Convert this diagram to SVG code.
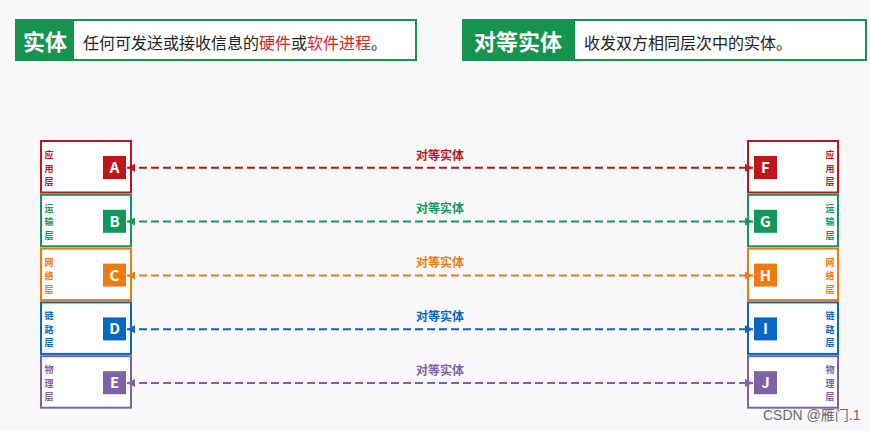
<svg xmlns="http://www.w3.org/2000/svg" width="870" height="431" viewBox="0 0 870 431">
<style>
text{font-family:"Noto Sans CJK SC","Noto Sans",sans-serif}
.hdr{fill:#ffffff;stroke:#16934d;stroke-width:2}
.hlab{fill:#16934d}
.ht{font-size:22px;font-weight:bold;fill:#fff}
.hd{font-size:16px;fill:#222}
.red{fill:#e3211b}
.box{fill:#fff;stroke-width:2}
.sq{stroke:none}
.let{font-size:15px;font-weight:bold;fill:#fff;text-anchor:middle}
.lay{font-size:9px;font-weight:bold;text-anchor:middle}
.lbl{font-size:12px;font-weight:bold;text-anchor:middle}
.ln{fill:none;stroke-width:2;stroke-dasharray:8 4}
.c1{stroke:#c0151b}.f1{fill:#c0151b}
.c2{stroke:#13975a}.f2{fill:#13975a}
.c3{stroke:#ee7a12}.f3{fill:#ee7a12}
.c4{stroke:#0866c4}.f4{fill:#0866c4}
.c5{stroke:#7e62a6}.f5{fill:#7e62a6}
</style>
<defs>
<marker id="a1" viewBox="0 0 10 10" refX="10" refY="5" markerWidth="4" markerHeight="4" orient="auto-start-reverse"><path d="M0,0L10,5L0,10z" fill="#c0151b"/></marker>
<marker id="a2" viewBox="0 0 10 10" refX="10" refY="5" markerWidth="4" markerHeight="4" orient="auto-start-reverse"><path d="M0,0L10,5L0,10z" fill="#13975a"/></marker>
<marker id="a3" viewBox="0 0 10 10" refX="10" refY="5" markerWidth="4" markerHeight="4" orient="auto-start-reverse"><path d="M0,0L10,5L0,10z" fill="#ee7a12"/></marker>
<marker id="a4" viewBox="0 0 10 10" refX="10" refY="5" markerWidth="4" markerHeight="4" orient="auto-start-reverse"><path d="M0,0L10,5L0,10z" fill="#0866c4"/></marker>
<marker id="a5" viewBox="0 0 10 10" refX="10" refY="5" markerWidth="4" markerHeight="4" orient="auto-start-reverse"><path d="M0,0L10,5L0,10z" fill="#7e62a6"/></marker>
</defs>
<rect width="870" height="431" fill="#f9f9fb"/>

<g id="header-entity">
<rect class="hdr" x="16" y="20" width="400" height="40"/>
<rect class="hlab" x="16" y="20" width="58" height="40"/>
<text class="ht" x="23" y="50">实体</text>
<text class="hd" x="83" y="48.5">任何可发送或接收信息的<tspan class="red">硬件</tspan>或<tspan class="red">软件进程</tspan>。</text>
</g>
<g id="header-peer">
<rect class="hdr" x="463" y="20" width="403" height="40"/>
<rect class="hlab" x="463" y="20" width="112" height="40"/>
<text class="ht" x="474" y="50">对等实体</text>
<text class="hd" x="584" y="48.5">收发双方相同层次中的实体。</text>
</g>

<g id="A">
<rect class="box c1" x="41" y="141" width="90" height="51.5"/>
<rect class="sq f1" x="103" y="156" width="23" height="23"/>
<text class="let" x="114.5" y="173">A</text>
<text class="lay f1" x="49" y="158">应</text><text class="lay f1" x="49" y="171.5">用</text><text class="lay f1" x="49" y="185">层</text>
</g>
<g id="B">
<rect class="box c2" x="41" y="194.8" width="90" height="51.5"/>
<rect class="sq f2" x="103" y="209.8" width="23" height="23"/>
<text class="let" x="114.5" y="226.8">B</text>
<text class="lay f2" x="49" y="211.8">运</text><text class="lay f2" x="49" y="225.3">输</text><text class="lay f2" x="49" y="238.8">层</text>
</g>
<g id="C">
<rect class="box c3" x="41" y="248.6" width="90" height="51.5"/>
<rect class="sq f3" x="103" y="263.6" width="23" height="23"/>
<text class="let" x="114.5" y="280.6">C</text>
<text class="lay f3" x="49" y="265.6">网</text><text class="lay f3" x="49" y="279.1">络</text><text class="lay f3" x="49" y="292.6">层</text>
</g>
<g id="D">
<rect class="box c4" x="41" y="302.4" width="90" height="51.5"/>
<rect class="sq f4" x="103" y="317.4" width="23" height="23"/>
<text class="let" x="114.5" y="334.4">D</text>
<text class="lay f4" x="49" y="319.4">链</text><text class="lay f4" x="49" y="332.9">路</text><text class="lay f4" x="49" y="346.4">层</text>
</g>
<g id="E">
<rect class="box c5" x="41" y="356.2" width="90" height="51.5"/>
<rect class="sq f5" x="103" y="371.2" width="23" height="23"/>
<text class="let" x="114.5" y="388.2">E</text>
<text class="lay f5" x="49" y="373.2">物</text><text class="lay f5" x="49" y="386.7">理</text><text class="lay f5" x="49" y="400.2">层</text>
</g>

<g id="F">
<rect class="box c1" x="748" y="141" width="90" height="51.5"/>
<rect class="sq f1" x="754" y="156" width="23" height="23"/>
<text class="let" x="765.5" y="173">F</text>
<text class="lay f1" x="830" y="158">应</text><text class="lay f1" x="830" y="171.5">用</text><text class="lay f1" x="830" y="185">层</text>
</g>
<g id="G">
<rect class="box c2" x="748" y="194.8" width="90" height="51.5"/>
<rect class="sq f2" x="754" y="209.8" width="23" height="23"/>
<text class="let" x="765.5" y="226.8">G</text>
<text class="lay f2" x="830" y="211.8">运</text><text class="lay f2" x="830" y="225.3">输</text><text class="lay f2" x="830" y="238.8">层</text>
</g>
<g id="H">
<rect class="box c3" x="748" y="248.6" width="90" height="51.5"/>
<rect class="sq f3" x="754" y="263.6" width="23" height="23"/>
<text class="let" x="765.5" y="280.6">H</text>
<text class="lay f3" x="830" y="265.6">网</text><text class="lay f3" x="830" y="279.1">络</text><text class="lay f3" x="830" y="292.6">层</text>
</g>
<g id="I">
<rect class="box c4" x="748" y="302.4" width="90" height="51.5"/>
<rect class="sq f4" x="754" y="317.4" width="23" height="23"/>
<text class="let" x="765.5" y="334.4">I</text>
<text class="lay f4" x="830" y="319.4">链</text><text class="lay f4" x="830" y="332.9">路</text><text class="lay f4" x="830" y="346.4">层</text>
</g>
<g id="J">
<rect class="box c5" x="748" y="356.2" width="90" height="51.5"/>
<rect class="sq f5" x="754" y="371.2" width="23" height="23"/>
<text class="let" x="765.5" y="388.2">J</text>
<text class="lay f5" x="830" y="373.2">物</text><text class="lay f5" x="830" y="386.7">理</text><text class="lay f5" x="830" y="400.2">层</text>
</g>

<g id="connectors">
<line class="ln c1" x1="127" y1="167.8" x2="753" y2="167.8" marker-start="url(#a1)" marker-end="url(#a1)"/>
<text class="lbl f1" x="440" y="159.5">对等实体</text>
<line class="ln c2" x1="127" y1="221.6" x2="753" y2="221.6" marker-start="url(#a2)" marker-end="url(#a2)"/>
<text class="lbl f2" x="440" y="213.3">对等实体</text>
<line class="ln c3" x1="127" y1="275.4" x2="753" y2="275.4" marker-start="url(#a3)" marker-end="url(#a3)"/>
<text class="lbl f3" x="440" y="267.1">对等实体</text>
<line class="ln c4" x1="127" y1="329.2" x2="753" y2="329.2" marker-start="url(#a4)" marker-end="url(#a4)"/>
<text class="lbl f4" x="440" y="320.9">对等实体</text>
<line class="ln c5" x1="127" y1="383" x2="753" y2="383" marker-start="url(#a5)" marker-end="url(#a5)"/>
<text class="lbl f5" x="440" y="374.7">对等实体</text>
</g>

<text x="763" y="420" font-size="14" fill="#6a6a6a" style="font-family:'Liberation Sans','Noto Sans CJK SC',sans-serif">CSDN @雁门.1</text>
</svg>
